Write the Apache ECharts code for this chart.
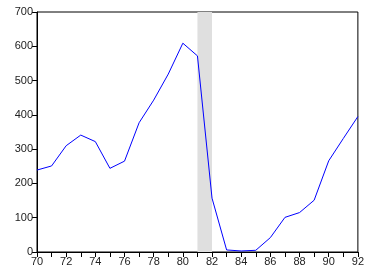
<!DOCTYPE html>
<html>
<head>
<meta charset="UTF-8">
<title>chart</title>
<script src="https://cdn.jsdelivr.net/npm/echarts@6/dist/echarts.min.js"></script>
<style>
    html, body { margin: 0; padding: 0; background: #fff; }
    #chart { width: 367px; height: 276px; }
</style>
</head>
<body>
<div id="chart"></div>
<script>
    // years and values
    var years = [70, 71, 72, 73, 74, 75, 76, 77, 78, 79, 80, 81, 82, 83, 84, 85, 86, 87, 88, 89, 90, 91, 92];
    var values = [239, 251, 310, 341, 322, 244, 265, 377, 443, 519, 609, 572, 157, 6, 3, 5, 42, 101, 115, 151, 266, 331, 395];
    var shadeFrom = 81;
    var shadeTo = 82;

    var points = [];
    for (var i = 0; i < years.length; i++) {
        points.push([years[i], values[i]]);
    }

    var chart = echarts.init(document.getElementById('chart'));
    chart.setOption({
        animation: false,
        grid: {
            left: 37, right: 9, top: 12, bottom: 24,
            show: true, borderColor: '#000', borderWidth: 1
        },
        xAxis: {
            type: 'value',
            min: 70, max: 92, interval: 2,
            axisLine: { lineStyle: { color: '#000', width: 1 } },
            axisTick: { length: 5, lineStyle: { color: '#000' } },
            minorTick: { show: true, splitNumber: 2, length: 5, lineStyle: { color: '#000' } },
            splitLine: { show: false },
            axisLabel: { color: '#222', fontSize: 11, fontFamily: 'Liberation Sans', margin: 4 }
        },
        yAxis: {
            type: 'value',
            min: 0, max: 700, interval: 100,
            axisLine: { show: true, lineStyle: { color: '#000', width: 1 } },
            axisTick: { show: true, length: 5, lineStyle: { color: '#000' } },
            splitLine: { show: false },
            axisLabel: { color: '#222', fontSize: 11, fontFamily: 'Liberation Sans', margin: 4 }
        },
        series: [{
            type: 'line',
            data: points,
            symbol: 'none',
            lineStyle: { color: '#0000ff', width: 1 },
            markArea: {
                silent: true,
                itemStyle: { color: '#dfdfdf' },
                data: [[{ xAxis: shadeFrom }, { xAxis: shadeTo }]]
            },
            z: 3
        }]
    });
</script>
</body>
</html>
